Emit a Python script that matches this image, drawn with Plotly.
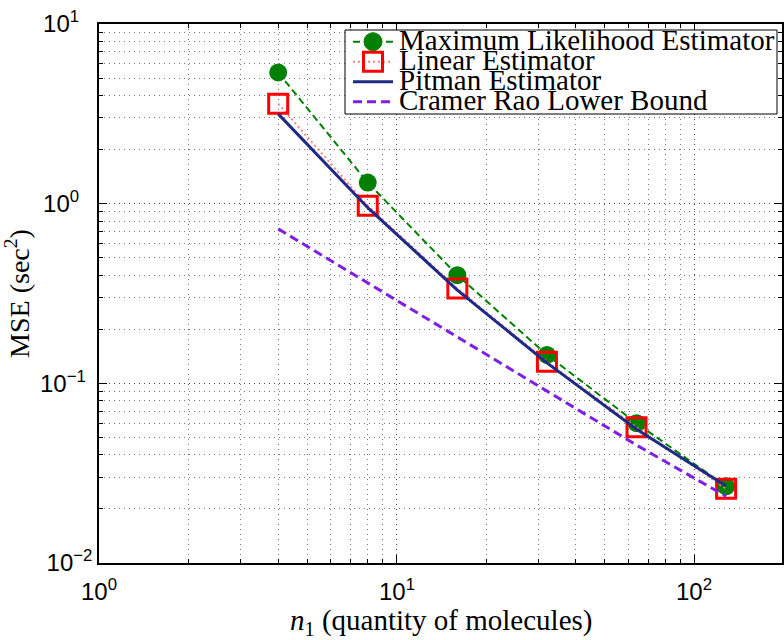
import math
import plotly.graph_objects as go

# ---- data ----
n = [4, 8, 16, 32, 64, 128]
mle = [5.37, 1.31, 0.40, 0.144, 0.060, 0.0267]
linear = [3.60, 0.973, 0.337, 0.132, 0.0569, 0.0259]
pitman = [3.16, 0.95, 0.33, 0.130, 0.0555, 0.0268]
crlb = [0.724, 0.362, 0.181, 0.0905, 0.0453, 0.0235]

names = ["Maximum Likelihood Estimator", "Linear Estimator", "Pitman Estimator", "Cramer Rao Lower Bound"]
xtick_vals = [1, 10, 100]
xtick_text = ["10<sup>0</sup>", "10<sup>1</sup>", "10<sup>2</sup>"]
ytick_vals = [0.01, 0.1, 1, 10]
ytick_text = ["10<sup>−2</sup>", "10<sup>−1</sup>&nbsp;", "10<sup>0</sup>&nbsp;&nbsp;", "10<sup>1</sup>&nbsp;&nbsp;"]
x_title = "<i>n</i><sub>1</sub> (quantity of molecules)"
y_title = "MSE (sec<sup>2</sup>)"

# ---- styles ----
GREEN = "#008000"
RED = "#ff0000"
PINK = "#ff8080"
NAVY = "#1f2a87"
PURPLE = "#7f1fe6"
SERIF = "Liberation Serif"

fig = go.Figure()
fig.add_trace(go.Scatter(x=n, y=mle, name=names[0], mode="lines+markers",
                         line=dict(color=GREEN, width=2, dash="7px,4px"),
                         marker=dict(symbol="circle", size=18, color=GREEN)))
fig.add_trace(go.Scatter(x=n, y=linear, name=names[1], mode="lines+markers",
                         line=dict(color=PINK, width=2, dash="2px,3px"),
                         marker=dict(symbol="square-open", size=19, color=RED, line=dict(width=3, color=RED))))
fig.add_trace(go.Scatter(x=n, y=pitman, name=names[2], mode="lines",
                         line=dict(color=NAVY, width=3)))
fig.add_trace(go.Scatter(x=n, y=crlb, name=names[3], mode="lines",
                         line=dict(color=PURPLE, width=3, dash="9px,5px")))

tickfont = dict(family="Liberation Sans", size=24, color="black")

axis_common = dict(type="log", showline=True, linecolor="black", linewidth=1.5, mirror="ticks",
                   ticks="inside", ticklen=8, tickcolor="black", tickwidth=1, automargin=False,
                   showgrid=True, gridcolor="#444444", griddash="1px,4px", gridwidth=1,
                   tickfont=tickfont, zeroline=False,
                   minor=dict(showgrid=True, gridcolor="#777777", griddash="1px,4px", ticks="inside",
                              ticklen=4, tickcolor="black", dtick="D1"))

fig.update_xaxes(range=[0, 2.295], tickvals=xtick_vals, showticklabels=False, **axis_common)
fig.update_yaxes(range=[-2, 1], tickvals=ytick_vals, ticktext=ytick_text,
                 title=dict(text=y_title, font=dict(family=SERIF, size=28, color="black")),
                 **axis_common)

# ---- hand-drawn legend (MATLAB style, tight rows) ----
L, R, T, B = 99, 782, 24, 563
def px(x):
    return (x - L) / (R - L)
def py(y):
    return (B - y) / (B - T)

shapes = [dict(type="rect", xref="paper", yref="paper", x0=px(345), x1=px(777), y0=py(114), y1=py(30),
               line=dict(color="black", width=1), fillcolor="white", layer="above")]
annotations = []
row_y = [41.7, 61.7, 81.7, 101.7]
line_styles = [(GREEN, 2, "7px,4px"), (PINK, 2, "2px,3px"), (NAVY, 3, "solid"), (PURPLE, 3, "9px,5px")]
for i, nm in enumerate(names):
    c, w, d = line_styles[i]
    yy = py(row_y[i])
    shapes.append(dict(type="line", xref="paper", yref="paper", x0=px(353), x1=px(393), y0=yy, y1=yy,
                       line=dict(color=c, width=w, dash=d), layer="above"))
    annotations.append(dict(xref="paper", yref="paper", x=px(397), y=yy + 0.003, xanchor="left", yanchor="middle",
                            text=nm, showarrow=False, font=dict(family=SERIF, size=29, color="black")))
# legend marker glyphs
cx = px(373)
shapes.append(dict(type="circle", xref="paper", yref="paper", xsizemode="pixel", ysizemode="pixel",
                   xanchor=cx, yanchor=py(row_y[0]), x0=-9, x1=9, y0=-9, y1=9,
                   fillcolor=GREEN, line=dict(color=GREEN, width=1), layer="above"))
shapes.append(dict(type="rect", xref="paper", yref="paper", xsizemode="pixel", ysizemode="pixel",
                   xanchor=cx, yanchor=py(row_y[1]), x0=-9.5, x1=9.5, y0=-9.5, y1=9.5,
                   fillcolor="rgba(0,0,0,0)", line=dict(color=RED, width=3), layer="above"))

# x tick labels and x title (placed via the x scale)
for v, t in zip(xtick_vals, xtick_text):
    annotations.append(dict(xref="x", yref="paper", x=math.log10(v), y=0, yanchor="top", xanchor="center",
                            yshift=-10, text=t, showarrow=False, font=tickfont))
annotations.append(dict(xref="paper", yref="paper", x=0.5, y=0, yanchor="middle", xanchor="center",
                        yshift=-59, text=x_title, showarrow=False,
                        font=dict(family=SERIF, size=29, color="black")))

fig.update_layout(width=784, height=640, margin=dict(l=L, r=784 - R, t=T, b=640 - B),
                  plot_bgcolor="white", paper_bgcolor="white", showlegend=False,
                  font=dict(family=SERIF, size=22, color="black"),
                  shapes=shapes, annotations=annotations)

fig.write_html("out.html", config={"displayModeBar": False},
               post_script="document.body.style.margin='0';document.body.style.overflow='hidden';")
